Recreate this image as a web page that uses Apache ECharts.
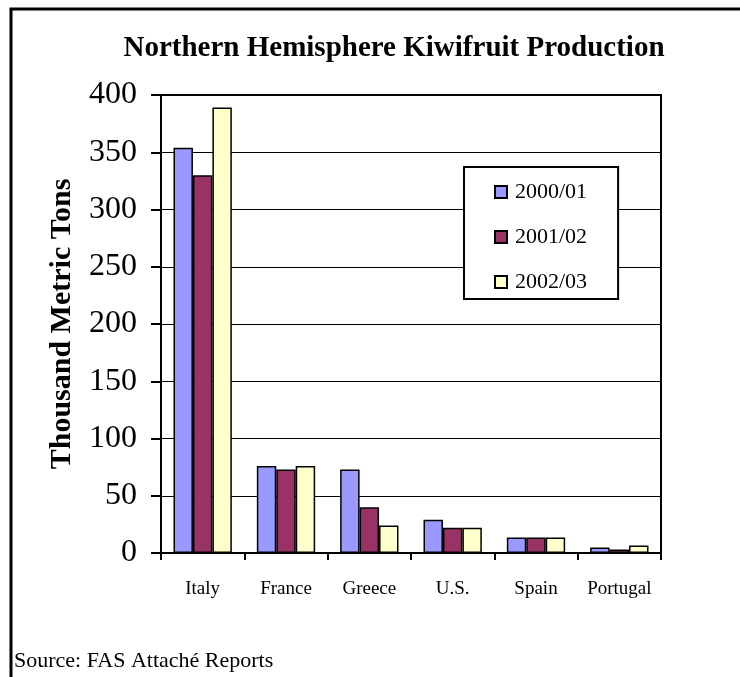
<!DOCTYPE html>
<html>
<head>
<meta charset="utf-8">
<script src="https://cdn.jsdelivr.net/npm/echarts@6/dist/echarts.min.js"></script>
<style>
  html, body { margin: 0; padding: 0; background: #fff; }
  #chart { width: 740px; height: 677px; }
</style>
</head>
<body>
<div id="chart"></div>
<script>
// Kiwifruit output by country, thousand metric tons
var countries = ['Italy', 'France', 'Greece', 'U.S.', 'Spain', 'Portugal'];
var seasons = ['2000/01', '2001/02', '2002/03'];
var prod2000 = [354, 76, 73, 29, 13.5, 4.7];
var prod2001 = [330, 73, 40, 22, 13.5, 3];
var prod2002 = [389, 76, 24, 22, 13.5, 6.5];
var yTicks = [0, 50, 100, 150, 200, 250, 300, 350, 400];

var serif = 'Liberation Serif, Times New Roman, serif';
var colors = ['#9999FF', '#993366', '#FFFFCC'];
var values = [prod2000, prod2001, prod2002];

var chart = echarts.init(document.getElementById('chart'));

chart.setOption({
  animation: false,
  backgroundColor: '#ffffff',
  title: {
    text: 'Northern Hemisphere Kiwifruit Production',
    left: 389, top: 29, textAlign: 'center',
    textStyle: { fontFamily: serif, fontWeight: 'bold', fontSize: 29, color: '#000' }
  },
  grid: {
    left: 161, right: 79, top: 95, bottom: 124,
    show: true, borderColor: '#000', borderWidth: 2, backgroundColor: 'transparent'
  },
  legend: {
    data: seasons,
    orient: 'vertical',
    left: 464, top: 167,
    padding: [14, 31, 6, 30],
    itemGap: 23,
    itemWidth: 12, itemHeight: 12,
    icon: 'rect',
    borderColor: '#000', borderWidth: 2,
    backgroundColor: '#fff',
    textStyle: { fontFamily: serif, fontSize: 22, color: '#000', padding: [6, 0, 0, 3] }
  },
  xAxis: {
    type: 'category',
    data: countries,
    axisLine: { lineStyle: { color: '#000', width: 2 } },
    axisTick: { show: true, interval: 0, inside: false, length: 7, lineStyle: { color: '#000', width: 2 } },
    axisLabel: { interval: 0, hideOverlap: false, fontFamily: serif, fontSize: 19, color: '#000', margin: 27 },
    splitLine: { show: false }
  },
  yAxis: {
    type: 'value',
    min: yTicks[0], max: yTicks[yTicks.length - 1], interval: yTicks[1] - yTicks[0],
    name: 'Thousand Metric Tons',
    nameLocation: 'middle',
    nameGap: 84,
    nameRotate: 90,
    nameTextStyle: { fontFamily: serif, fontWeight: 'bold', fontSize: 30, color: '#000' },
    axisLine: { show: true, lineStyle: { color: '#000', width: 2 } },
    axisTick: { show: true, inside: false, length: 10, lineStyle: { color: '#000', width: 2 } },
    axisLabel: { fontFamily: serif, fontSize: 32, color: '#000', margin: 24 },
    splitLine: { show: true, lineStyle: { color: '#000', width: 1 } }
  },
  series: seasons.map(function (s, i) {
    return {
      name: s,
      type: 'bar',
      data: values[i],
      barGap: '0%',
      barCategoryGap: '30%',
      itemStyle: { color: colors[i], borderColor: '#000', borderWidth: 1.5 }
    };
  }),
  graphic: [
    {
      type: 'polyline',
      shape: { points: [[11, 677], [11, 9], [740, 9]] },
      style: { stroke: '#000', lineWidth: 3, fill: null }
    },
    {
      type: 'text',
      left: 14, top: 650,
      style: { text: 'Source: FAS Attaché Reports', font: '22px ' + serif, fill: '#000' }
    }
  ]
});
</script>
</body>
</html>
